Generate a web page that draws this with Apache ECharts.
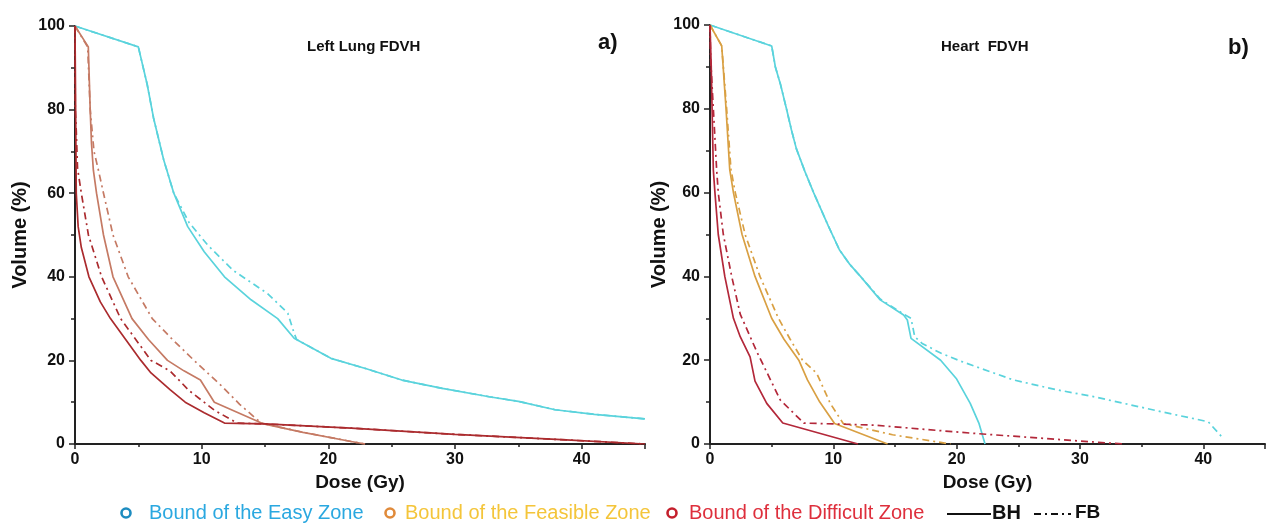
<!DOCTYPE html>
<html>
<head>
<meta charset="utf-8">
<script src="https://cdn.jsdelivr.net/npm/echarts@6/dist/echarts.min.js"></script>
<style>
  html, body { margin: 0; padding: 0; background: #fff; }
  #main { width: 1266px; height: 525px; }
</style>
</head>
<body>
<div id="main"></div>
<script>
// [dose (Gy), volume (%)]
var lungEasyBH = [[0,100],[5,95],[5.7,86],[6.2,78],[7,68],[7.8,60],[8.9,52],[10.2,46],[11.8,40],[13.9,34.5],[16,30],[17.3,25.3],[20.2,20.5],[23,18],[25.8,15.3],[29,13.3],[32.7,11.3],[35,10.2],[37.9,8.2],[41,7.1],[45,6]];
var lungEasyFB = [[0,100],[5,95],[5.7,86],[6.2,78],[7,68],[7.8,60],[9,53],[10.5,47.5],[12.5,41.5],[15.2,36],[16.8,31.3],[17.3,26.5],[17.5,25],[20.2,20.5],[23,18],[25.8,15.3],[29,13.3],[32.7,11.3],[35,10.2],[37.9,8.2],[41,7.1],[45,6]];
var lungFeasBH = [[0,100],[1.05,95],[1.2,80],[1.3,72],[1.45,65.5],[1.7,60],[2.25,50],[3,40],[4.5,30],[5.8,25],[7.3,20],[8.6,17.5],[9.9,15.3],[11,10],[14.9,4.8],[18,2.8],[21.8,0.6],[22.9,0]];
var lungFeasFB = [[0,100],[1,95],[1.2,80],[1.5,70],[1.85,65.5],[2.25,60],[3,50],[4.2,40],[6.1,30],[7.7,25],[9.4,20],[11.5,14.1],[13,9.5],[14.7,5],[15,4.8],[18,2.8],[21.8,0.6],[22.9,0]];
var lungDiffBH = [[0,100],[0.05,80],[0.1,60],[0.25,52],[0.5,47],[1.1,40],[2,34],[2.8,30],[4,25],[5.2,20],[6,17],[7.5,13],[8.7,10],[10.2,7.5],[11.8,5],[15,4.8],[21.8,3.8],[30,2.3],[38,1.1],[45,0]];
var lungDiffFB = [[0,100],[0.02,80],[0.1,75],[0.2,66],[0.5,60],[1.06,50],[2.1,40],[3.6,30],[6,20],[7.5,17.5],[9,12.8],[11,8.1],[12.8,5],[15,4.8],[21.8,3.8],[30,2.3],[38,1.1],[45,0]];

var heartEasyBH = [[0,100],[5,95],[5.3,90],[5.7,86],[6.2,80],[6.6,75],[7,70.5],[7.7,65],[8.4,60],[9,56],[9.6,52],[10.5,46.3],[11.3,43],[12.2,40],[13.8,34.4],[15.7,30.8],[16,29.6],[16.3,25.2],[18.7,20],[20,15.5],[21.1,9.7],[21.8,5],[22.3,0]];
var heartEasyFB = [[0,100],[5,95],[5.3,90],[5.7,86],[6.2,80],[6.6,75],[7,70.5],[7.7,65],[8.4,60],[9,56],[9.6,52],[10.5,46.3],[11.3,43],[12.2,40],[13.8,34.6],[15.7,31],[16.3,30],[16.6,25.6],[17.2,24],[18.7,21.7],[20.3,19.8],[22,18],[24.6,15.3],[28,13],[31.1,11.3],[36.6,7.7],[40.4,5.3],[41.5,1.7]];
var heartFeasBH = [[0,100],[0.95,95],[1.3,80],[1.6,65.5],[1.9,60],[2.6,50],[3.65,40],[5,30],[6,25],[7.2,20],[7.9,15.3],[8.9,10],[10.1,4.9],[14.4,0]];
var heartFeasFB = [[0,100],[0.95,95],[1.35,80],[1.7,65.5],[2.05,60],[2.85,50],[4.05,40],[5.55,30],[6.5,25],[7.5,20],[8.65,16.9],[9.75,9.7],[10.8,4.9],[14.8,2.2],[19.5,0]];
var heartDiffBH = [[0,100],[0.1,90],[0.27,65.4],[0.4,60],[0.67,50],[1.2,40],[1.9,30],[2.45,25.6],[3.25,20.8],[3.65,15],[4.6,9.7],[5.9,5],[12,0]];
var heartDiffFB = [[0,100],[0.05,92],[0.54,65.4],[0.67,60],[1.08,50],[1.76,40],[2.45,31],[3.8,22],[5.7,10.5],[7.6,5],[13.3,4.5],[21.1,2.6],[31,0.5],[33.5,0]];

var zoneNames = ['Bound of the Easy Zone', 'Bound of the Feasible Zone', 'Bound of the Difficult Zone'];
var titles = ['Left Lung FDVH', 'Heart  FDVH'];
var panelTags = ['a)', 'b)'];

var cyan = '#5ad3dc';
var dashDot = [7, 4, 2, 4];
var font = 'Liberation Sans, Arial, sans-serif';

function line(name, data, color, dashed, axis) {
  return {
    name: name, type: 'line', data: data, xAxisIndex: axis, yAxisIndex: axis,
    showSymbol: false, symbol: 'none', silent: true,
    lineStyle: { color: color, width: 1.7, type: dashed ? dashDot : 'solid' }
  };
}

function xAxis(grid) {
  return {
    type: 'value', gridIndex: grid, min: 0, max: 45, interval: 10,
    name: 'Dose (Gy)', nameLocation: 'middle', nameGap: 28,
    nameTextStyle: { fontFamily: font, fontWeight: 'bold', fontSize: 19, color: '#111' },
    axisLine: { lineStyle: { color: '#222', width: 2 } },
    axisTick: { inside: false, length: 5, lineStyle: { color: '#222', width: 1.5 } },
    minorTick: { show: true, splitNumber: 2, length: 3, lineStyle: { color: '#222', width: 1.5 } },
    axisLabel: { fontFamily: font, fontWeight: 'bold', fontSize: 16, color: '#111', margin: 8, showMaxLabel: false },
    splitLine: { show: false }
  };
}

function yAxis(grid, gap) {
  return {
    type: 'value', gridIndex: grid, min: 0, max: 100, interval: 20,
    name: 'Volume (%)', nameLocation: 'middle', nameGap: gap,
    nameTextStyle: { fontFamily: font, fontWeight: 'bold', fontSize: 20, color: '#111' },
    axisLine: { show: true, lineStyle: { color: '#222', width: 2 } },
    axisTick: { show: true, length: 6, lineStyle: { color: '#222', width: 1.5 } },
    minorTick: { show: true, splitNumber: 2, length: 4, lineStyle: { color: '#222', width: 1.5 } },
    axisLabel: { fontFamily: font, fontWeight: 'bold', fontSize: 16, color: '#111', margin: 10 },
    splitLine: { show: false }
  };
}

var legendY = 513;
var graphics = [];
function ring(x, color) {
  graphics.push({ type: 'circle', shape: { cx: x, cy: legendY, r: 4.5 }, style: { fill: 'none', stroke: color, lineWidth: 2.6 } });
}
function label(x, text, color, bold, size) {
  graphics.push({ type: 'text', x: x, y: legendY, style: { text: text, fill: color, font: (bold ? 'bold ' : '') + size + 'px ' + font, textVerticalAlign: 'middle', textAlign: 'left' } });
}
ring(126, '#1d8cc0'); label(149, zoneNames[0], '#2aa8e0', false, 20);
ring(390, '#e08a3a'); label(405, zoneNames[1], '#f4c53a', false, 20);
ring(672, '#c41f2c'); label(689, zoneNames[2], '#de2f3c', false, 20);
graphics.push({ type: 'line', shape: { x1: 947, y1: legendY + 1, x2: 991, y2: legendY + 1 }, style: { stroke: '#111', lineWidth: 2 } });
label(992, 'BH', '#111', true, 20);
graphics.push({ type: 'line', shape: { x1: 1034, y1: legendY + 1, x2: 1071, y2: legendY + 1 }, style: { stroke: '#111', lineWidth: 2, lineDash: dashDot } });
label(1075, 'FB', '#111', true, 19);

var chart = echarts.init(document.getElementById('main'));
chart.setOption({
  backgroundColor: '#fff',
  animation: false,
  title: [
    { text: titles[0], left: 302, top: 34, textStyle: { fontFamily: font, fontWeight: 'bold', fontSize: 15, color: '#111' } },
    { text: panelTags[0], left: 593, top: 27, textStyle: { fontFamily: font, fontWeight: 'bold', fontSize: 22, color: '#111' } },
    { text: titles[1], left: 936, top: 34, textStyle: { fontFamily: font, fontWeight: 'bold', fontSize: 15, color: '#111' } },
    { text: panelTags[1], left: 1223, top: 32, textStyle: { fontFamily: font, fontWeight: 'bold', fontSize: 22, color: '#111' } }
  ],
  grid: [
    { left: 75, right: 621, top: 26, bottom: 81 },
    { left: 710, right: 1, top: 25, bottom: 81 }
  ],
  xAxis: [xAxis(0), xAxis(1)],
  yAxis: [yAxis(0, 45), yAxis(1, 40)],
  graphic: graphics,
  series: [
    line('lungEasyFB', lungEasyFB, cyan, true, 0),
    line('lungEasyBH', lungEasyBH, cyan, false, 0),
    line('lungFeasFB', lungFeasFB, '#c57a64', true, 0),
    line('lungFeasBH', lungFeasBH, '#c57a64', false, 0),
    line('lungDiffFB', lungDiffFB, '#ab2b2e', true, 0),
    line('lungDiffBH', lungDiffBH, '#ab2b2e', false, 0),
    line('heartEasyFB', heartEasyFB, cyan, true, 1),
    line('heartEasyBH', heartEasyBH, cyan, false, 1),
    line('heartFeasFB', heartFeasFB, '#d9a043', true, 1),
    line('heartFeasBH', heartFeasBH, '#d9a043', false, 1),
    line('heartDiffFB', heartDiffFB, '#b3283a', true, 1),
    line('heartDiffBH', heartDiffBH, '#b3283a', false, 1)
  ]
});
</script>
</body>
</html>
